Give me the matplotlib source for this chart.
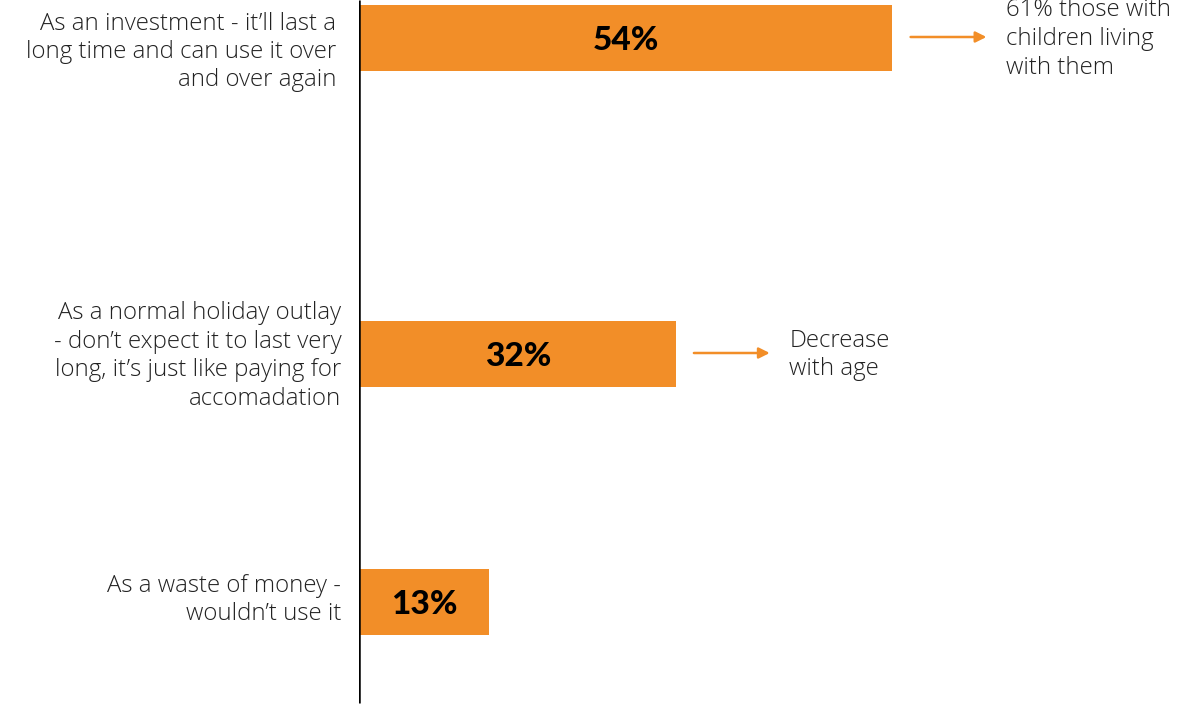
import matplotlib
matplotlib.use("Agg")
import matplotlib.pyplot as plt

# Survey answers: how respondents view the purchase
categories = [
    "As an investment - it\u2019ll last a\nlong time and can use it over\nand over again",
    "As a normal holiday outlay\n- don\u2019t expect it to last very\nlong, it\u2019s just like paying for\naccomadation",
    "As a waste of money -\nwouldn\u2019t use it",
]
values = [54, 32, 13]
value_labels = ["54%", "32%", "13%"]
notes = ["61% those with\nchildren living\nwith them", "Decrease\nwith age", None]

ORANGE = "#F28E28"
TEXT = "#222222"

W, H = 1178, 707
fig = plt.figure(figsize=(W / 100, H / 100), dpi=100)
fig.patch.set_facecolor("white")

# axes spans from the baseline at x=359px to the right edge; y in pixel rows
x0 = 359
px_per_pct = 9.85
ax = fig.add_axes([x0 / W, 0, 1 - x0 / W, 1])
ax.set_xlim(0, (W - x0) / px_per_pct)
ax.set_ylim(H, 0)
ax.axis("off")

row_y = [38, 354, 602]
label_y = [52, 356, 600]
bar_h = 66

ax.barh(row_y, values, height=bar_h, color=ORANGE, left=0.15, zorder=2)

# vertical baseline
ax.plot([0, 0], [0, 703], color="black", lw=1.8, solid_capstyle="butt", zorder=3)

for y, v, lab in zip(row_y, values, value_labels):
    ax.text(v / 2 + 0.15, y + 2, lab, ha="center", va="center",
            fontsize=24, fontweight="black", family="Lato", color="black", zorder=4)

label_x = [-2.3, -1.8, -1.8]
for y, cat, lx in zip(label_y, categories, label_x):
    ax.text(lx, y, cat, ha="right", va="center", fontsize=17.3,
            family="Open Sans", fontweight="light", color=TEXT, linespacing=1.25)

# arrows with side notes
for y, v, note in zip(row_y, values, notes):
    if note is None:
        continue
    start = v + 2.0
    end = start + 7.7
    ax.annotate("", xy=(end, y - 1), xytext=(start, y - 1),
                arrowprops=dict(arrowstyle="-|>", color=ORANGE, lw=1.8,
                                mutation_scale=16, shrinkA=0, shrinkB=0))
    ax.text(end + 2.0, y + 1, note, ha="left", va="center", fontsize=17.3,
            family="Open Sans", fontweight="light", color=TEXT, linespacing=1.25)

fig.savefig("out.png", dpi=100, facecolor="white")
